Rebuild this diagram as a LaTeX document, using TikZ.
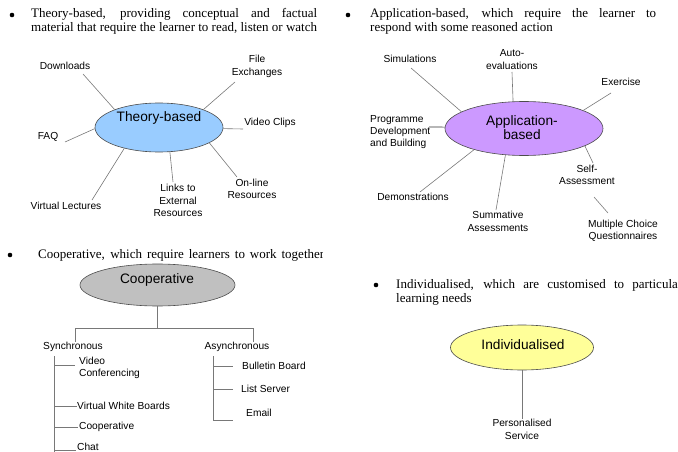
\documentclass[tikz,border=0pt]{standalone}
\usepackage{fontspec}
\setmainfont{Liberation Serif}
\newfontfamily\lsans{Liberation Sans}
\usetikzlibrary{shapes.geometric}
\definecolor{theoryblue}{RGB}{153,204,255}
\definecolor{apppurple}{RGB}{204,153,255}
\definecolor{coopgray}{RGB}{192,192,192}
\definecolor{indyellow}{RGB}{255,255,153}
\definecolor{linegray}{RGB}{120,120,120}
\begin{document}
\begin{tikzpicture}[x=1pt,y=-1pt,
  lbl/.style={font=\lsans\fontsize{10.2}{12.3}\selectfont, inner sep=0pt, align=center},
  lbll/.style={lbl, align=left, anchor=west},
  bigl/.style={font=\lsans\fontsize{13.7}{14.2}\selectfont, inner sep=0pt, align=center},
  ell/.style={ellipse, draw=black!70, line width=0.6pt, inner sep=0pt},
  conn/.style={draw=linegray, line width=0.6pt},
  tree/.style={draw=linegray, line width=0.7pt},
  para/.style={font=\fontsize{13}{14}\selectfont, text width=286pt, align=justify, inner sep=0pt, anchor=base west},
  bul/.style={circle, fill=black, inner sep=0pt, minimum size=4.6pt}
]
\useasboundingbox (0,0) rectangle (678,452);

% ---------------- Theory-based ----------------
\node[bul] (b1) at (12,15) {};
\node[para] (p1) at (31,18) {Theory-based, providing conceptual and factual\linebreak \mbox{material that require the learner to read, listen or watch}};
\node[ell, fill=theoryblue, minimum width=128pt, minimum height=49pt] (th) at (159,127.5) {};
\node[bigl] (tht) at (159,118) {Theory-based};
\node[lbl] (dl) at (65,66) {Downloads};
\node[lbl] (fe) at (257,66.5) {File\\Exchanges};
\node[lbl] (vc) at (270,123) {Video Clips};
\node[lbl] (faq) at (48,137) {FAQ};
\node[lbl] (vl) at (66,206) {Virtual Lectures};
\node[lbl] (lk) at (178,200.5) {Links to\\External\\Resources};
\node[lbl] (ol) at (252,189) {On-line\\Resources};
\coordinate (dl-e) at (83,74);
\coordinate (fe-e) at (235,82);
\coordinate (vc-e) at (243,129);
\coordinate (faq-e) at (65,142);
\coordinate (vl-e) at (92,200);
\coordinate (lk-e) at (173,182);
\coordinate (ol-e) at (237,177);
\draw[conn] (th.158) -- (dl-e);
\draw[conn] (th.22) -- (fe-e);
\draw[conn] (th.-1) -- (vc-e);
\draw[conn] (th.181) -- (faq-e);
\draw[conn] (th.211) -- (vl-e);
\draw[conn] (th.294) -- (lk-e);
\draw[conn] (th.-17) -- (ol-e);

% ---------------- Application-based ----------------
\node[bul] (b2) at (348,15) {};
\node[para] (p2) at (370,18) {Application-based, which require the learner to\linebreak \mbox{respond with some reasoned action}};
\node[ell, fill=apppurple, minimum width=158pt, minimum height=54pt] (ap) at (524,128.5) {};
\node[bigl] (apt) at (522,128) {Application-\\based};
\node[lbl] (sim) at (410,59) {Simulations};
\node[lbl] (auto) at (512,59.5) {Auto-\\evaluations};
\node[lbl] (ex) at (621,82) {Exercise};
\node[lbll] (prog) at (370,132) {Programme\\Development\\and Building};
\node[lbl] (dem) at (413,197) {Demonstrations};
\node[lbl] (sum) at (498,221.5) {Summative\\Assessments};
\node[lbl] (self) at (587,175) {Self-\\Assessment};
\node[lbl] (mc) at (623,231) {Multiple Choice\\Questionnaires};
\coordinate (sim-e) at (411,68);
\coordinate (auto-e) at (512,72);
\coordinate (ex-e) at (611,93);
\coordinate (prog-e) at (429,127);
\coordinate (dem-e) at (420,192);
\coordinate (sum-e) at (496,210);
\coordinate (self-e) at (593,163);
\coordinate (mc-a) at (594,197);
\coordinate (mc-b) at (608,213);
\draw[conn] (ap.165) -- (sim-e);
\draw[conn] (ap.112) -- (auto-e);
\draw[conn] (ap.17) -- (ex-e);
\draw[draw=black!80, line width=0.7pt] (ap.179) -- (prog-e);
\draw[conn] (ap.203) -- (dem-e);
\draw[conn] (ap.235) -- (sum-e);
\draw[conn] (ap.-16) -- (self-e);
\draw[conn] (mc-a) -- (mc-b);

% ---------------- Cooperative ----------------
\node[bul] (b3) at (10,255) {};
\begin{scope}
\clip (0,238) rectangle (322,270);
\node[para] (p3) at (38,258) {Cooperative, which require learners to work together\linebreak\mbox{}};
\end{scope}
\node[ell, fill=coopgray, minimum width=155pt, minimum height=42pt] (co) at (157.5,285) {};
\node[bigl] (cot) at (157,280) {Cooperative};
\node[lbl] (syn) at (73,347) {Synchronous};
\node[lbl] (asy) at (237,347) {Asynchronous};
\coordinate (hl) at (75,328);
\coordinate (hr) at (253,328);
\draw[tree] (co.south) -- (co.south |- hl);
\draw[tree] (hl) -- (hr);
\draw[tree] (hl) -- (hl |- syn.north);
\draw[tree] (hr) -- (hr |- asy.north);
% synchronous branch
\node[lbll] (vid) at (79,368) {Video\\Conferencing};
\node[lbll] (vwb) at (77,406) {Virtual White Boards};
\node[lbll] (cop) at (79,427) {Cooperative};
\node[lbll] (chat) at (77,447) {Chat};
\coordinate (st) at (54,356);
\coordinate (sb) at (54,452);
\draw[tree] (st) -- (sb);
\draw[tree] (st |- 0,365) -- (75,365);
\draw[tree] (st |- vwb.west) -- (vwb.west);
\draw[tree] (st |- cop.west) -- ([xshift=-1pt]cop.west);
\draw[tree] (st |- 0,450) -- ([xshift=-1pt,yshift=-3pt]chat.west);
% asynchronous branch
\node[lbll] (bb) at (242,366) {Bulletin Board};
\node[lbll] (ls) at (241,389) {List Server};
\node[lbll] (em) at (246,413) {Email};
\coordinate (at) at (213,356);
\coordinate (ab) at (213,420);
\draw[tree] (at) -- (ab) -- (233,420);
\draw[tree] (at |- bb.west) -- ([xshift=-9pt]bb.west);
\draw[tree] (at |- ls.west) -- ([xshift=-8pt]ls.west);

% ---------------- Individualised ----------------
\node[bul] (b4) at (376,285) {};
\node[para] (p4) at (396,288) {Individualised, which are customised to particular\linebreak \mbox{learning needs}};
\node[ell, fill=indyellow, minimum width=143pt, minimum height=45pt] (in) at (522,347.5) {};
\node[bigl] (int) at (523,345) {Individualised};
\node[lbl] (ps) at (522,429.5) {Personalised\\Service};
\draw[conn] (in.south) -- (in.south |- ps.north);
\end{tikzpicture}
\end{document}
